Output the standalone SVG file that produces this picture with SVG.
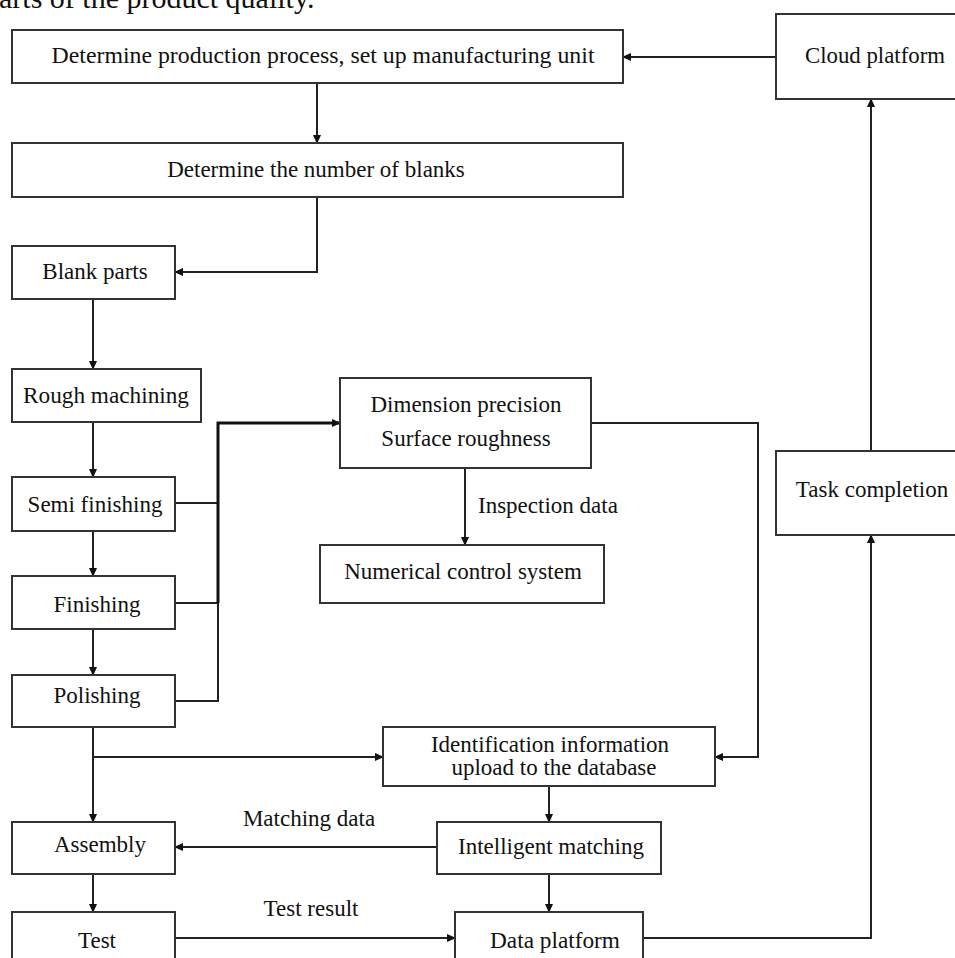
<svg xmlns="http://www.w3.org/2000/svg" width="955" height="958" viewBox="0 0 955 958">
<defs>
<marker id="arr" markerWidth="9" markerHeight="8" refX="8" refY="4" orient="auto" markerUnits="userSpaceOnUse">
<path d="M0,0 L9,4 L0,8 z" fill="#111"/>
</marker>
<style>
.box{fill:#fff;stroke:#333;stroke-width:2}
.t{font-family:"Liberation Serif","Times New Roman",serif;font-size:23px;fill:#111;text-anchor:middle}
.l{font-family:"Liberation Serif","Times New Roman",serif;font-size:23px;fill:#111}
.c{fill:none;stroke:#222;stroke-width:2}
.ck{fill:none;stroke:#111;stroke-width:3}
</style>
</defs>
<rect width="955" height="958" fill="#fff"/>
<text x="-1" y="8" style="font-family:'Liberation Serif','Times New Roman',serif;font-size:30px;fill:#111">arts of the product quality.</text>

<g id="connectors">
<path class="c" d="M317,83 V143" marker-end="url(#arr)"/>
<path class="c" d="M317,197 V272 H175" marker-end="url(#arr)"/>
<path class="c" d="M93,299 V369" marker-end="url(#arr)"/>
<path class="c" d="M93,422 V477" marker-end="url(#arr)"/>
<path class="c" d="M93,531 V576" marker-end="url(#arr)"/>
<path class="c" d="M93,629 V675" marker-end="url(#arr)"/>
<path class="c" d="M93,727 V822" marker-end="url(#arr)"/>
<path class="c" d="M93,757 H383" marker-end="url(#arr)"/>
<path class="c" d="M93,874 V912" marker-end="url(#arr)"/>
<path class="c" d="M175,938 H455" marker-end="url(#arr)"/>
<path class="c" d="M175,503 H218"/>
<path class="c" d="M175,603 H218"/>
<path class="c" d="M175,701 H218 V603"/>
<path class="ck" d="M218,603 V423 H340" marker-end="url(#arr)"/>
<path class="c" d="M465,468 V545" marker-end="url(#arr)"/>
<path class="c" d="M591,423 H758 V757 H715" marker-end="url(#arr)"/>
<path class="c" d="M549,786 V822" marker-end="url(#arr)"/>
<path class="c" d="M437,847 H175" marker-end="url(#arr)"/>
<path class="c" d="M549,874 V912" marker-end="url(#arr)"/>
<path class="c" d="M643,938 H871 V535" marker-end="url(#arr)"/>
<path class="c" d="M871,451 V99" marker-end="url(#arr)"/>
<path class="c" d="M776,57 H623" marker-end="url(#arr)"/>
</g>

<g id="n-determine-process">
<rect class="box" x="12" y="30" width="611" height="53"/>
<text class="t" x="323" y="63" textLength="543" lengthAdjust="spacingAndGlyphs">Determine production process, set up manufacturing  unit</text>
</g>
<g id="n-blanks-number">
<rect class="box" x="12" y="143" width="611" height="54"/>
<text class="t" x="316" y="177">Determine  the number of blanks</text>
</g>
<g id="n-cloud">
<rect class="box" x="776" y="14" width="200" height="85"/>
<text class="t" x="875" y="63" textLength="140" lengthAdjust="spacingAndGlyphs">Cloud platform</text>
</g>
<g id="n-blank-parts">
<rect class="box" x="12" y="246" width="163" height="53"/>
<text class="t" x="95" y="279">Blank parts</text>
</g>
<g id="n-rough">
<rect class="box" x="12" y="369" width="189" height="53"/>
<text class="t" x="106" y="403" textLength="166" lengthAdjust="spacingAndGlyphs">Rough machining</text>
</g>
<g id="n-semi">
<rect class="box" x="12" y="477" width="163" height="54"/>
<text class="t" x="95" y="512">Semi finishing</text>
</g>
<g id="n-finishing">
<rect class="box" x="12" y="576" width="163" height="53"/>
<text class="t" x="97" y="612">Finishing</text>
</g>
<g id="n-polishing">
<rect class="box" x="12" y="675" width="163" height="52"/>
<text class="t" x="97" y="703">Polishing</text>
</g>
<g id="n-assembly">
<rect class="box" x="12" y="822" width="163" height="52"/>
<text class="t" x="100" y="852">Assembly</text>
</g>
<g id="n-test">
<rect class="box" x="12" y="912" width="163" height="60"/>
<text class="t" x="97" y="948">Test</text>
</g>
<g id="n-dimension">
<rect class="box" x="340" y="378" width="251" height="90"/>
<text class="t" x="466" y="412">Dimension precision</text>
<text class="t" x="466" y="446">Surface roughness</text>
</g>
<g id="n-nc">
<rect class="box" x="320" y="545" width="284" height="58"/>
<text class="t" x="463" y="579">Numerical control system</text>
</g>
<g id="n-task">
<rect class="box" x="776" y="451" width="200" height="84"/>
<text class="t" x="872" y="497">Task completion</text>
</g>
<g id="n-ident">
<rect class="box" x="383" y="727" width="332" height="59"/>
<text class="t" x="550" y="752">Identification  information</text>
<text class="t" x="554" y="775">upload to the database</text>
</g>
<g id="n-intelligent">
<rect class="box" x="437" y="822" width="224" height="52"/>
<text class="t" x="551" y="854">Intelligent matching</text>
</g>
<g id="n-data">
<rect class="box" x="455" y="912" width="188" height="60"/>
<text class="t" x="555" y="948" textLength="130" lengthAdjust="spacingAndGlyphs">Data platform</text>
</g>

<g id="labels">
<text class="l" x="478" y="513">Inspection data</text>
<text class="t" x="309" y="826">Matching data</text>
<text class="t" x="311" y="916">Test result</text>
</g>
</svg>
